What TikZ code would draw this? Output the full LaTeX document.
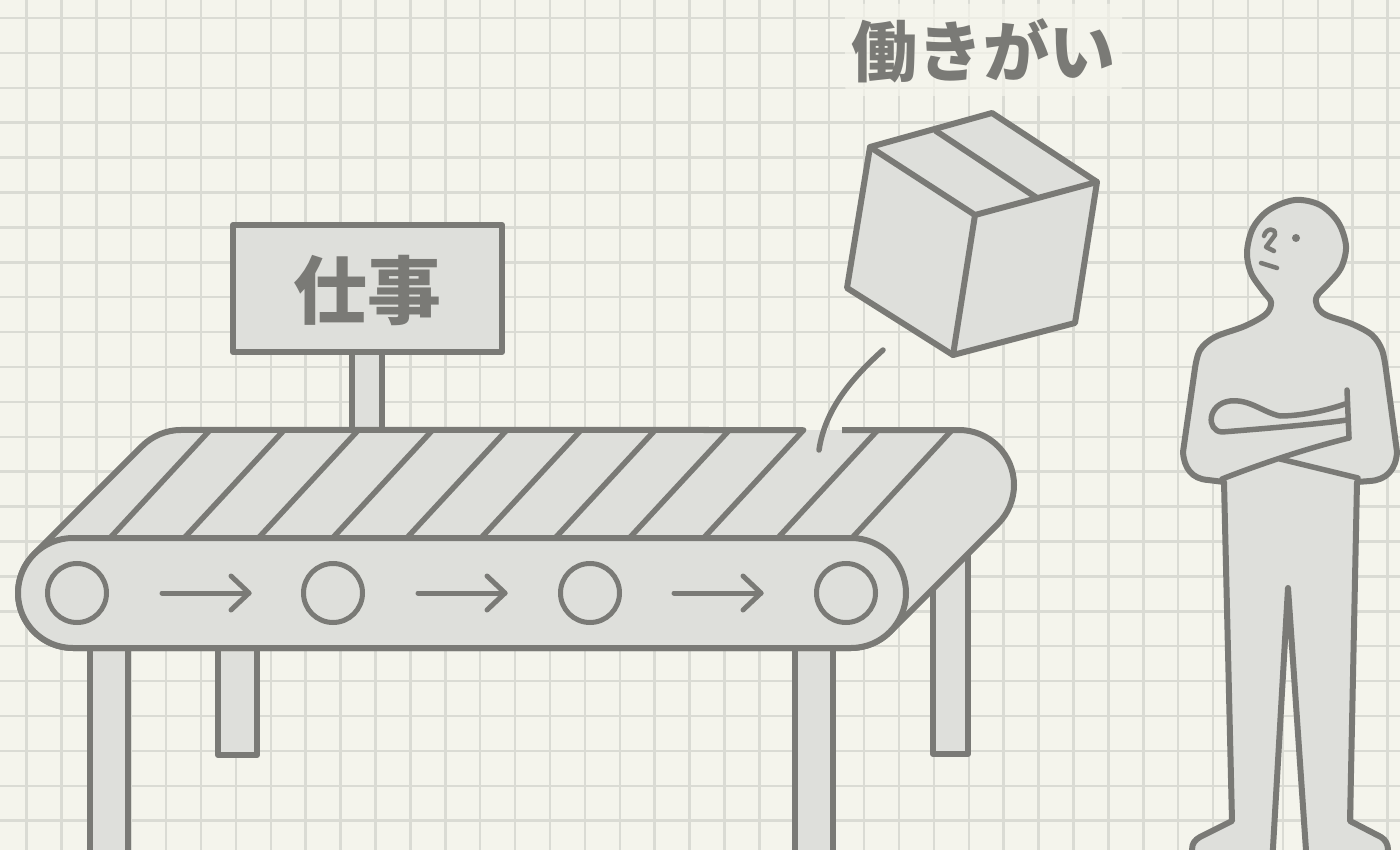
\documentclass[tikz,border=0pt]{standalone}
\usepackage{fontspec}
\newfontfamily\jp{Noto Sans CJK JP}
\definecolor{paper}{RGB}{244,244,236}
\definecolor{gridc}{RGB}{218,219,212}
\definecolor{ink}{RGB}{122,122,118}
\definecolor{panel}{RGB}{222,223,219}

\begin{document}
\begin{tikzpicture}[x=1pt,y=-1pt,
  part/.style={draw=ink, fill=panel, line width=6pt, line join=round},
  stroke/.style={draw=ink, line width=5.5pt, line cap=round, line join=round},
  fine/.style={draw=ink, line width=4.5pt, line cap=round, line join=round},
  label/.style={text=ink, inner sep=0pt}]
\useasboundingbox (0,0) rectangle (1400,850);
\begin{scope}
\clip (0,0) rectangle (1400,850);

% squared paper
\fill[paper] (0,0) rectangle (1400,850);
\foreach \k in {-1,...,40} {\draw[gridc, line width=2.5pt] (26.5+34.9*\k,0) -- (26.5+34.9*\k,850);}
\foreach \k in {0,...,24} {\draw[gridc, line width=2.5pt] (0,18+34.9*\k) -- (1400,18+34.9*\k);}

% title with a soft paper patch behind it
\fill[paper, opacity=0.7, rounded corners=10pt] (845,4) rectangle (1122,96);
\node[label, font=\jp\bfseries\fontsize{66}{66}\selectfont] (title) at (983,51) {働きがい};

% table legs (behind the belt)
\draw[part] (90,640) rectangle (128,870);
\draw[part] (218,640) rectangle (257,755);
\draw[part] (795,640) rectangle (833,870);
\draw[part] (933,520) rectangle (968,754);

% sign post and sign
\draw[part] (352,345) rectangle (382,434);
\draw[part] (233,225) rectangle (502,352);
\node[label, font=\jp\bfseries\fontsize{74}{74}\selectfont] (job) at (367,290) {仕事};

% belt top surface
\fill[panel] (181,430) -- (959,430) arc[start angle=90,end angle=-45,radius=55pt]
  -- (889.9,631.9) arc[start angle=-45,end angle=-90,radius=55pt]
  -- (73,648) arc[start angle=-90,end angle=-225,radius=55pt]
  -- (142.1,446.1) arc[start angle=135,end angle=90,radius=55pt] -- cycle;
\foreach \k in {0,...,10} {\draw[stroke] (210+74.2*\k,430) -- (110+74.2*\k,538);}
\draw[draw=ink, line width=6pt, line join=round]
  (842,430) -- (959,430) arc[start angle=90,end angle=-45,radius=55pt]
  -- (889.9,631.9) arc[start angle=-45,end angle=-90,radius=55pt]
  -- (73,648) arc[start angle=-90,end angle=-225,radius=55pt]
  -- (142.1,446.1) arc[start angle=135,end angle=90,radius=55pt] -- (803,430);

% front band with rollers and direction arrows
\draw[part, rounded corners=55pt] (18,538) rectangle (906,648);
\foreach \cx/\n in {77/r1,333/r2,590/r3,846/r4} {
  \node[circle, draw=ink, line width=5pt, minimum size=59pt, inner sep=0pt] (\n) at (\cx,593) {};
}
\foreach \ax/\n in {162/a1,418/a2,674/a3} {
  \coordinate (\n s) at (\ax,593);
  \coordinate (\n t) at (\ax+87,593);
  \coordinate (\n u) at (\ax+69,576);
  \coordinate (\n d) at (\ax+69,610);
  \draw[stroke, line width=5pt] (\n s) -- (\n t);
  \draw[stroke, line width=5pt] (\n u) -- (\n t) -- (\n d);
}

% motion trail of the box
\coordinate (trailtop) at (883,350);
\coordinate (trailend) at (819,450);
\draw[stroke] (trailtop) .. controls (850,380) and (825,410) .. (trailend);

% cardboard box
\coordinate (A) at (870,147);
\coordinate (B) at (992,113);
\coordinate (C) at (1097,182);
\coordinate (D) at (975,215);
\coordinate (E) at (847,288);
\coordinate (F) at (953,355);
\coordinate (G) at (1075,323);
\draw[part] (A) -- (B) -- (C) -- (G) -- (F) -- (E) -- cycle;
\draw[stroke, line width=6pt] (A) -- (D) -- (C) (D) -- (F);
\coordinate (tape1) at (936,131);
\coordinate (tape2) at (1037,198);
\draw[stroke, line width=6pt] (tape1) -- (tape2);

% person with folded arms
\draw[part, even odd rule]
  (1191,865) -- (1192,850) .. controls (1192,843) and (1195,840) .. (1200,837)
  -- (1232,821) -- (1224,482) -- (1208,480)
  .. controls (1192,479) and (1184,468) .. (1183,452)
  -- plot[smooth, tension=0.55] coordinates {
    (1195,368) (1200,350) (1215,337) (1245,326) (1266,314) (1271,302)
    (1263,291) (1251,273) (1247,252) (1253,228) (1269,210) (1295,200)
    (1320,205) (1338,222) (1346,246) (1341,268) (1328,284) (1317,296)
    (1317,306) (1326,315) (1352,324) (1372,335) (1382,350) (1386,370)}
  -- (1397,452) .. controls (1396,470) and (1386,480) .. (1370,481)
  -- (1357,482) -- (1350,821) -- (1381,837)
  .. controls (1386,840) and (1388,845) .. (1388,850) -- (1389,865) -- cycle
  (1272,865) -- (1288,588) -- (1307,865) -- cycle;
% face
\fill[ink] (1296,238) circle[radius=4pt];
\draw[fine] (1261,263) -- (1277,268);
\draw[fine] (1264,236) .. controls (1266,228) and (1276,227) .. (1275,235) -- (1266,247) -- (1274,251);
% arms
\draw[stroke] (1347,390) -- (1349,438);
\draw[stroke] (1345,404) .. controls (1325,411) and (1300,416) .. (1280,416)
  .. controls (1262,412) and (1250,399) .. (1230,401)
  .. controls (1207,404) and (1206,431) .. (1222,432)
  .. controls (1260,429) and (1320,424) .. (1347,420);
\draw[stroke] (1349,438) .. controls (1300,450) and (1250,468) .. (1222,479);
\draw[stroke] (1280,459) -- (1358,478);
\end{scope}
\end{tikzpicture}
\end{document}
